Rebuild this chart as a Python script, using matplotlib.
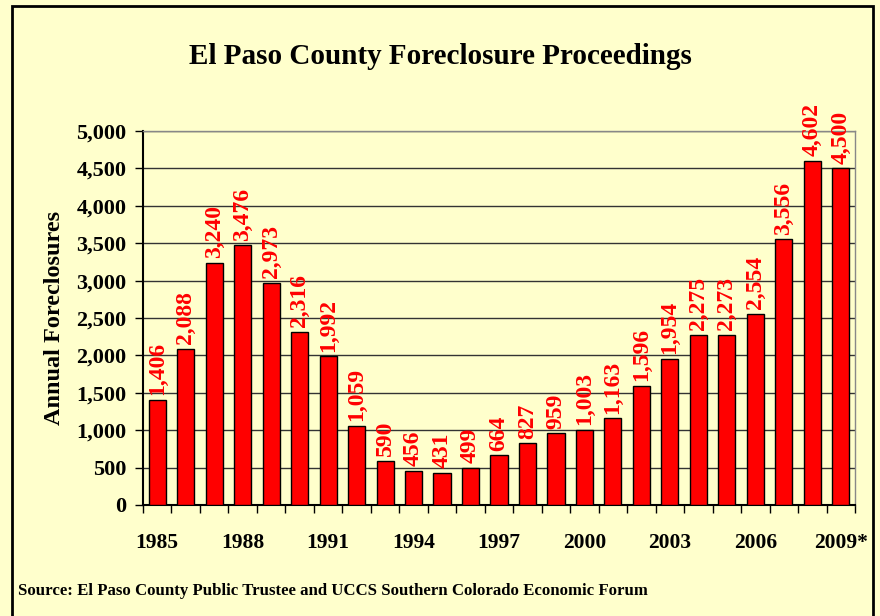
import matplotlib
matplotlib.use('Agg')
import matplotlib.pyplot as plt
from matplotlib.patches import Rectangle
import numpy as np

# data
years = list(range(1985, 2010))
foreclosures = [1406, 2088, 3240, 3476, 2973, 2316, 1992, 1059, 590, 456,
                431, 499, 664, 827, 959, 1003, 1163, 1596, 1954, 2275,
                2273, 2554, 3556, 4602, 4500]
year_labels = ['1985', '1988', '1991', '1994', '1997', '2000', '2003', '2006', '2009*']
y_ticks = [0, 500, 1000, 1500, 2000, 2500, 3000, 3500, 4000, 4500, 5000]

BG = '#FFFFCC'
SERIF = ['Liberation Serif', 'DejaVu Serif']

plt.rcParams['font.family'] = SERIF
plt.rcParams['font.weight'] = 'bold'

fig = plt.figure(figsize=(8.8, 6.16), dpi=100, facecolor=BG)
ax = fig.add_axes([143/880, 111/616, 712/880, 374/616])
ax.set_facecolor(BG)

x = np.arange(len(years))
ax.bar(x, foreclosures, width=0.6, color='#FF0000', edgecolor='black', linewidth=1, zorder=3)

# value labels, rotated, sitting on top of each bar
for xi, v in zip(x, foreclosures):
    ax.text(xi, v + 60, '{:,}'.format(v), rotation=90, ha='center', va='bottom',
            color='#FF0000', fontsize=17, fontweight='bold', zorder=4)

ax.set_xlim(-0.5, len(years) - 0.5)
ax.set_ylim(0, 5000)

ax.set_yticks(y_ticks)
ax.set_yticklabels(['{:,}'.format(t) for t in y_ticks], fontsize=16, fontweight='bold')
ax.tick_params(axis='y', direction='out', length=6, width=1, pad=6)
ax.grid(axis='y', color='#333333', linewidth=1, zorder=1)

# year labels on every third bar, ticks between the bars
ax.set_xticks([years.index(int(l.rstrip('*'))) for l in year_labels])
ax.set_xticklabels(year_labels, fontsize=15.5, fontweight='bold')
ax.tick_params(axis='x', which='major', length=0, pad=20)
ax.set_xticks(np.arange(-0.5, len(years)), minor=True)
ax.tick_params(axis='x', which='minor', direction='out', length=6, width=1)

for side in ['left', 'bottom']:
    ax.spines[side].set_color('black')
    ax.spines[side].set_linewidth(1.5)
for side in ['top', 'right']:
    ax.spines[side].set_color('#888888')
    ax.spines[side].set_linewidth(1)

ax.set_ylabel('Annual Foreclosures', fontsize=17.5, fontweight='bold', labelpad=8)

fig.text(0.5, 1 - 57/616, 'El Paso County Foreclosure Proceedings',
         ha='center', va='center', fontsize=21, fontweight='bold')
fig.text(18/880, 1 - 595/616,
         'Source: El Paso County Public Trustee and UCCS Southern Colorado Economic Forum',
         ha='left', va='baseline', fontsize=12.1, fontweight='bold')

# outer frame
fig.patches.append(Rectangle((12/880, -0.02), (873 - 12)/880, 1.02 - 6/616,
                             transform=fig.transFigure, fill=False,
                             edgecolor='black', linewidth=2))

fig.savefig('out.png', dpi=100, facecolor=BG)
